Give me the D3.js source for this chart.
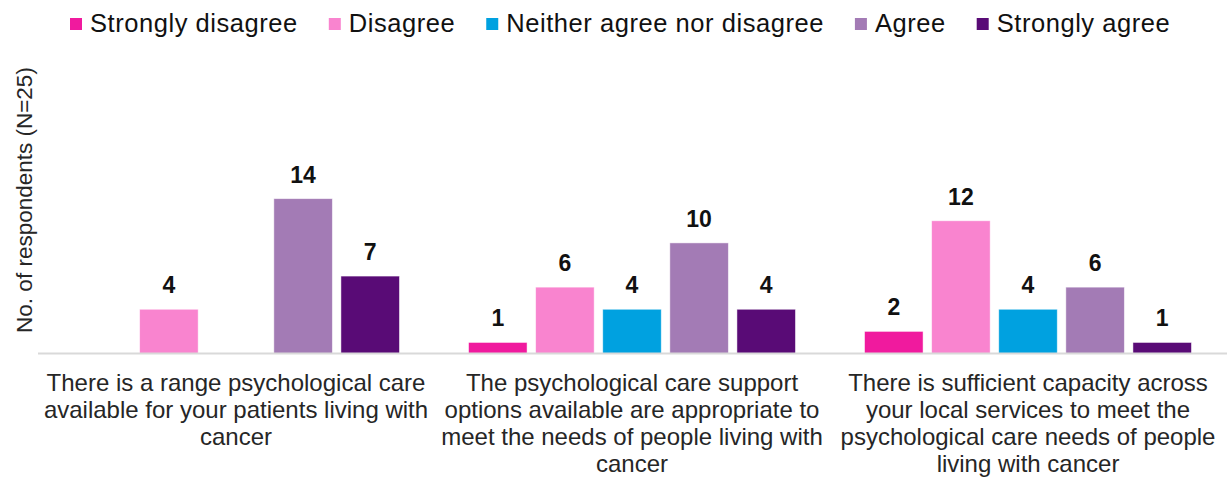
<!DOCTYPE html>
<html>
<head>
<meta charset="utf-8">
<script src="https://cdn.jsdelivr.net/npm/d3@7"></script>
<style>
  body { margin: 0; background: #fff; }
  text { font-family: "Liberation Sans", Arial, sans-serif; }
</style>
</head>
<body>
<div id="chart"></div>
<script>
// categories (line breaks as in the original)
const categories = [
  "There is a range psychological care\navailable for your patients living with\ncancer",
  "The psychological care support\noptions available are appropriate to\nmeet the needs of people living with\ncancer",
  "There is sufficient capacity across\nyour local services to meet the\npsychological care needs of people\nliving with cancer"
];
const seriesNames = ["Strongly disagree", "Disagree", "Neither agree nor disagree", "Agree", "Strongly agree"];
const seriesColors = ["#f01a9e", "#f984cf", "#00a1e0", "#a37bb5", "#590b76"];

// values per series, one per category (null = no response / no bar)
const stronglyDisagree = [null, 1, 2];
const disagree = [4, 6, 12];
const neither = [null, 4, 4];
const agree = [14, 10, 6];
const stronglyAgree = [7, 4, 1];
const seriesValues = [stronglyDisagree, disagree, neither, agree, stronglyAgree];

const yLabel = "No. of respondents (N=25)";

const W = 1227, H = 477;
const margin = {top: 77, right: 1, bottom: 123.5, left: 38};
const baseY = H - margin.bottom;

const svg = d3.select("#chart").append("svg")
    .attr("width", W)
    .attr("height", H);

const x0 = d3.scaleBand()
  .domain(d3.range(categories.length))
  .range([margin.left, W - margin.right])
  .padding(0);

const x1 = d3.scaleBand()
  .domain(d3.range(seriesNames.length))
  .range([0, x0.bandwidth()])
  .paddingInner(0.128)
  .paddingOuter(0.515);

const y = d3.scaleLinear()
  .domain([0, 25])
  .range([baseY, margin.top]);

// bars
const rows = [];
categories.forEach((c, ci) => {
  seriesValues.forEach((vals, si) => {
    if (vals[ci] != null) rows.push({ci: ci, si: si, v: vals[ci]});
  });
});

svg.append("g")
  .selectAll("rect")
  .data(rows)
  .enter().append("rect")
    .attr("x", d => x0(d.ci) + x1(d.si))
    .attr("y", d => y(d.v))
    .attr("width", x1.bandwidth())
    .attr("height", d => baseY - y(d.v))
    .attr("fill", d => seriesColors[d.si])
    .attr("stroke", "#ffffff")
    .attr("stroke-opacity", 0.6)
    .attr("stroke-width", 0.8);

// value labels
svg.append("g")
  .selectAll("text")
  .data(rows)
  .enter().append("text")
    .attr("x", d => x0(d.ci) + x1(d.si) + x1.bandwidth() / 2)
    .attr("y", d => y(d.v) - 16)
    .attr("text-anchor", "middle")
    .style("font-size", "23px")
    .style("font-weight", "bold")
    .style("fill", "#111")
    .text(d => d.v);

// x axis baseline
const xAxis = svg.append("g")
  .attr("transform", `translate(0,${baseY})`)
  .call(d3.axisBottom(x0).tickSize(0).tickFormat(""));
xAxis.select(".domain")
  .attr("stroke", "#d9d9d9")
  .attr("stroke-width", 2)
  .attr("d", `M${margin.left},0H${W}`);

// category labels
const catG = svg.append("g");
categories.forEach((c, ci) => {
  const t = catG.append("text")
    .attr("text-anchor", "middle")
    .style("font-size", "24px")
    .style("fill", "#262626");
  c.split("\n").forEach((line, li) => {
    t.append("tspan")
      .attr("x", x0(ci) + x0.bandwidth() / 2)
      .attr("y", baseY + 37.5 + li * 27)
      .text(line);
  });
});

// y axis title
svg.append("text")
  .attr("transform", "translate(32,200) rotate(-90)")
  .attr("text-anchor", "middle")
  .style("font-size", "22.5px")
  .style("fill", "#262626")
  .text(yLabel);

// legend
const legend = svg.append("g");
let lx = 70;
seriesNames.forEach((name, i) => {
  legend.append("rect")
    .attr("x", lx)
    .attr("y", 18)
    .attr("width", 12)
    .attr("height", 12)
    .attr("fill", seriesColors[i]);
  const t = legend.append("text")
    .attr("x", lx + 20)
    .attr("y", 32)
    .style("font-size", "25.5px")
    .style("letter-spacing", "0.55px")
    .style("fill", "#111")
    .text(name);
  lx += 20 + t.node().getComputedTextLength() + 31;
});
</script>
</body>
</html>
